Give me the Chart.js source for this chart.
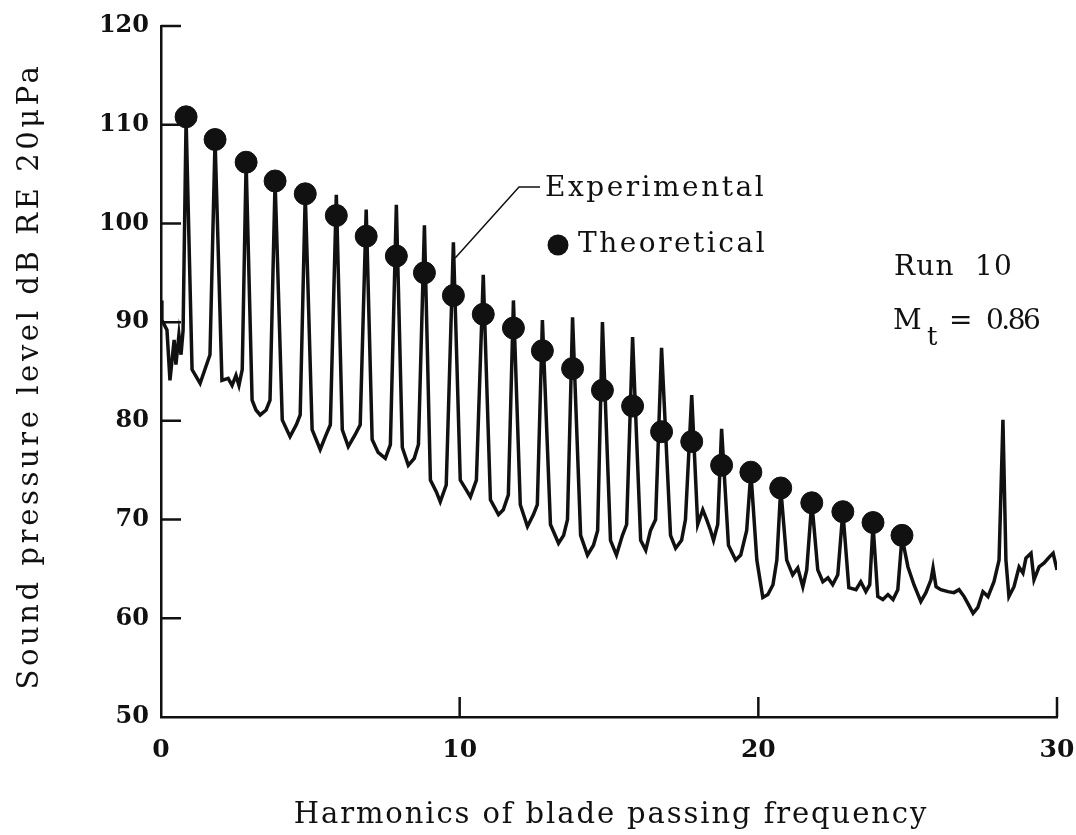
<!DOCTYPE html>
<html lang="en">
<head>
  <meta charset="UTF-8">
  <title>Harmonics of blade passing frequency</title>
  <script src="https://cdn.jsdelivr.net/npm/chart.js"></script>
  <style>
    html, body { margin: 0; padding: 0; background: #fff; overflow: hidden; }
    canvas { display: block; }
  </style>
</head>
<body>
  <canvas id="spl" width="1076" height="835"></canvas>

  <script>
    // experimental spectrum (harmonic number, dB)
    const expHarmonic = [
      0, 0.03, 0.2, 0.3, 0.44, 0.5, 0.6, 0.67, 0.74, 0.84,
      1.04, 1.31, 1.47, 1.64, 1.81,
      2.04, 2.25, 2.38, 2.51, 2.61, 2.72, 2.85,
      3.05, 3.18, 3.32, 3.52, 3.65, 3.82,
      4.06, 4.32, 4.53, 4.66, 4.83,
      5.06, 5.33, 5.53, 5.67, 5.87,
      6.07, 6.27, 6.5, 6.67, 6.87,
      7.07, 7.27, 7.51, 7.68, 7.88,
      8.08, 8.28, 8.48, 8.62, 8.82,
      9.02, 9.22, 9.35, 9.55, 9.79,
      10.02, 10.22, 10.36, 10.56, 10.79,
      11.03, 11.3, 11.46, 11.63, 11.8,
      12.03, 12.27, 12.47, 12.6, 12.77,
      13.04, 13.31, 13.48, 13.61, 13.78,
      14.05, 14.28, 14.48, 14.62, 14.78,
      15.05, 15.25, 15.45, 15.59, 15.79,
      16.06, 16.23, 16.39, 16.56, 16.76,
      17.06, 17.23, 17.43, 17.56, 17.77,
      17.97, 18.14, 18.27, 18.4, 18.5, 18.64, 18.77,
      19.0, 19.24, 19.41, 19.61, 19.75,
      19.95, 20.15, 20.32, 20.49, 20.62, 20.75,
      20.95, 21.15, 21.32, 21.49, 21.62, 21.79,
      21.99, 22.16, 22.33, 22.49, 22.66, 22.83,
      23.03, 23.27, 23.43, 23.6, 23.73, 23.84,
      24.0, 24.17, 24.34, 24.51, 24.67, 24.81,
      25.01, 25.21, 25.44, 25.61, 25.78, 25.85, 25.95, 26.11, 26.35, 26.55, 26.72,
      26.89, 27.05, 27.19, 27.35, 27.52, 27.69, 27.89, 28.06, 28.19, 28.29, 28.39,
      28.56, 28.73, 28.86, 28.96, 29.13, 29.23, 29.4, 29.57, 29.74, 29.87, 30.0
    ];
    const expLevel = [
      92.2, 90.2, 89.2, 84.1, 88.2, 85.7, 88.7, 86.7, 89.2, 110.6,
      85.2, 83.8, 85.2, 86.7, 108.5,
      84.1, 84.3, 83.6, 84.6, 83.6, 85.2, 106.2,
      82.1, 81.1, 80.6, 81.1, 82.1, 104.3,
      80.1, 78.4, 79.6, 80.6, 103.0,
      79.1, 77.1, 78.6, 79.6, 102.9,
      79.1, 77.4, 78.6, 79.6, 101.4,
      78.1, 76.8, 76.2, 77.6, 101.9,
      77.3, 75.5, 76.2, 77.6, 99.8,
      74.0, 72.8, 71.8, 73.5, 98.1,
      74.0, 73.0, 72.3, 74.0, 94.8,
      72.0, 70.5, 71.0, 72.5, 92.2,
      71.5, 69.3, 70.5, 71.5, 90.2,
      69.5, 67.6, 68.4, 70.0, 90.5,
      68.4, 66.4, 67.4, 68.9, 90.0,
      67.9, 66.4, 68.4, 69.5, 88.5,
      67.9, 66.9, 68.9, 70.0, 87.4,
      68.4, 67.1, 67.9, 70.0, 82.6,
      69.5, 71.0, 70.0, 68.9, 67.9, 69.5, 79.2,
      67.4, 65.9, 66.4, 68.9, 74.8,
      65.9, 62.1, 62.4, 63.4, 65.9, 73.2,
      65.9, 64.4, 65.1, 63.2, 64.9, 71.8,
      64.9, 63.7, 64.1, 63.4, 64.4, 70.8,
      63.1, 62.9, 63.7, 62.7, 63.4, 69.5,
      62.2, 61.9, 62.4, 61.9, 62.9, 68.2,
      65.2, 63.4, 61.7, 62.6, 63.9, 65.1, 63.2, 62.9, 62.7, 62.6, 62.9,
      62.2, 61.3, 60.5, 61.1, 62.7, 62.2, 63.7, 65.9, 80.1, 65.9, 62.2,
      63.2, 65.2, 64.6, 66.1, 66.6, 63.9, 65.2, 65.6, 66.2, 66.6, 64.9
    ];

    // theoretical levels (dots)
    const theoHarmonic = [0.84, 1.81, 2.85, 3.82, 4.83, 5.87, 6.87, 7.88, 8.82, 9.79,
      10.79, 11.8, 12.77, 13.78, 14.78, 15.79, 16.76, 17.77, 18.77, 19.75,
      20.75, 21.79, 22.83, 23.84, 24.81];
    const theoLevel = [110.8, 108.5, 106.2, 104.3, 103.0, 100.8, 98.7, 96.7, 95.0, 92.7,
      90.8, 89.4, 87.1, 85.3, 83.1, 81.5, 78.9, 77.9, 75.5, 74.8,
      73.2, 71.7, 70.8, 69.7, 68.4];

    const xTicks = [0, 10, 20, 30];
    const yTicks = [50, 60, 70, 80, 90, 100, 110, 120];

    const SERIF = '"DejaVu Serif", "Liberation Serif", serif';

    function spacedText(ctx, text, x, y, spacing) {
      ctx.save();
      ctx.letterSpacing = spacing + 'px';
      ctx.fillText(text, x, y);
      ctx.restore();
    }

    // inward ticks, axis titles and the notes on the plot
    const extras = {
      id: 'extras',
      afterDraw(chart) {
        const ctx = chart.ctx;
        const xs = chart.scales.x, ys = chart.scales.y;
        const a = chart.chartArea;
        ctx.save();
        ctx.strokeStyle = '#111';
        ctx.fillStyle = '#111';
        ctx.lineWidth = 2.5;
        ctx.beginPath();
        yTicks.forEach(v => {
          if (v === 50) return;
          const py = ys.getPixelForValue(v);
          ctx.moveTo(a.left, py);
          ctx.lineTo(a.left + 20, py);
        });
        xTicks.forEach(v => {
          if (v === 0) return;
          const px = xs.getPixelForValue(v);
          ctx.moveTo(px, a.bottom);
          ctx.lineTo(px, a.bottom - 20);
        });
        ctx.stroke();

        // axis titles
        ctx.textBaseline = 'middle';
        ctx.textAlign = 'center';
        ctx.font = '29px ' + SERIF;
        spacedText(ctx, 'Harmonics of blade passing frequency', 611, 815, 1.9);
        ctx.save();
        ctx.translate(30, 376);
        ctx.rotate(-Math.PI / 2);
        ctx.font = '29px ' + SERIF;
        spacedText(ctx, 'Sound pressure level dB RE 20\u03bcPa', 0, 0, 3.6);
        ctx.restore();

        // leader line to the experimental trace
        ctx.lineWidth = 1.5;
        ctx.beginPath();
        ctx.moveTo(xs.getPixelForValue(9.85), ys.getPixelForValue(96.5));
        ctx.lineTo(519, 187);
        ctx.lineTo(540, 187);
        ctx.stroke();

        ctx.textAlign = 'left';
        ctx.font = '28px ' + SERIF;
        spacedText(ctx, 'Experimental', 545, 189, 2.5);
        ctx.beginPath();
        ctx.arc(558, 245, 10.5, 0, Math.PI * 2);
        ctx.fill();
        spacedText(ctx, 'Theoretical', 578, 245, 2.5);

        spacedText(ctx, 'Run  10', 894, 268, 1.2);
        spacedText(ctx, 'M', 893, 322, 0);
        ctx.font = '26px ' + SERIF;
        spacedText(ctx, 't', 927, 338, 0);
        ctx.font = '28px ' + SERIF;
        spacedText(ctx, '=', 949, 322, 0);
        spacedText(ctx, '0.86', 986, 322, -2.5);
        ctx.restore();
      }
    };

    new Chart(document.getElementById('spl'), {
      type: 'scatter',
      data: {
        datasets: [
          {
            label: 'Experimental',
            data: expHarmonic.map((h, i) => ({ x: h, y: expLevel[i] })),
            showLine: true,
            borderColor: '#111',
            borderWidth: 3.5,
            pointRadius: 0,
            tension: 0,
            order: 2
          },
          {
            label: 'Theoretical',
            data: theoHarmonic.map((h, i) => ({ x: h, y: theoLevel[i] })),
            showLine: false,
            pointRadius: 11,
            pointBackgroundColor: '#111',
            pointBorderColor: '#111',
            order: 1
          }
        ]
      },
      options: {
        responsive: false,
        animation: false,
        layout: { padding: { left: 0, right: 19, top: 26, bottom: 0 } },
        plugins: { legend: { display: false }, tooltip: { enabled: false } },
        scales: {
          x: {
            type: 'linear',
            min: 0, max: 30,
            afterBuildTicks: s => { s.ticks = xTicks.map(v => ({ value: v })); },
            afterFit: s => { s.height = 118; s.paddingLeft = 0; s.paddingRight = 0; },
            grid: { drawOnChartArea: false, drawTicks: false },
            border: { display: true, color: '#111', width: 2.5 },
            ticks: { color: '#111', padding: 18, font: { family: SERIF, size: 25, weight: 'bold' }, maxRotation: 0 }
          },
          y: {
            type: 'linear',
            min: 50, max: 120,
            afterBuildTicks: s => { s.ticks = yTicks.map(v => ({ value: v })); },
            afterFit: s => { s.width = 161; s.paddingTop = 0; s.paddingBottom = 0; },
            grid: { drawOnChartArea: false, drawTicks: false },
            border: { display: true, color: '#111', width: 2.5 },
            ticks: { color: '#111', padding: 12, font: { family: SERIF, size: 24, weight: 'bold' } }
          }
        }
      },
      plugins: [extras]
    });
  </script>
</body>
</html>
